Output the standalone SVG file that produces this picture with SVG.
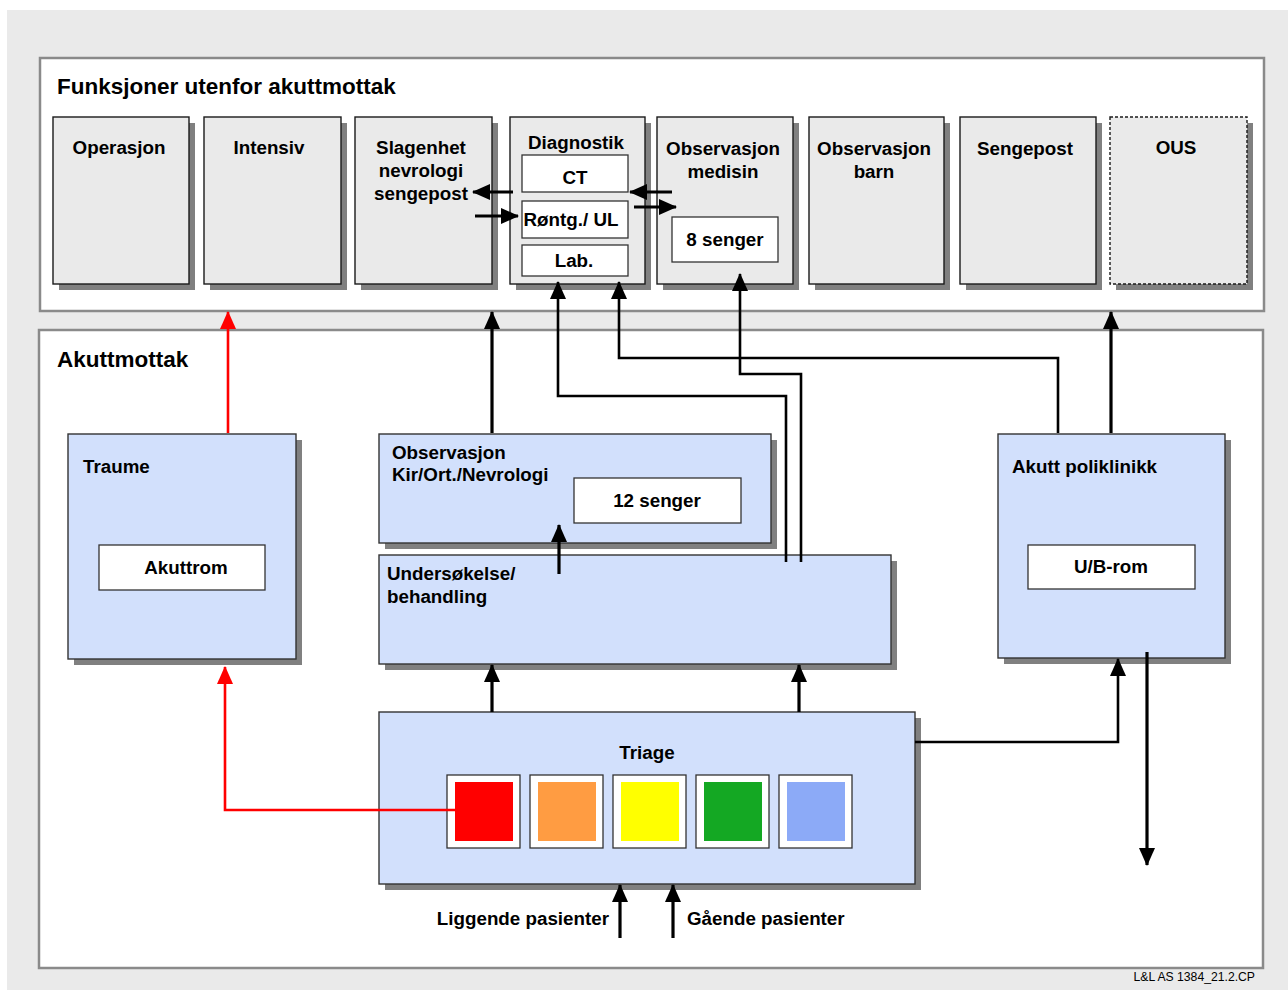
<svg xmlns="http://www.w3.org/2000/svg" width="1288" height="990" viewBox="0 0 1288 990">
<defs>
<style>
.t{font-family:"Liberation Sans",Arial,sans-serif;font-weight:bold;font-size:18.8px;fill:#000}
.c{text-anchor:middle}
.ttl{font-family:"Liberation Sans",Arial,sans-serif;font-weight:bold;font-size:22.5px;fill:#000}
.sh{fill:#808080}
.gn{fill:#EAEAEA;stroke:#1a1a1a;stroke-width:1.4}
.bn{fill:#D2E0FC;stroke:#333;stroke-width:1.4}
.wb{fill:#fff;stroke:#333;stroke-width:1.3}
.cont{fill:#fff;stroke:#8a8a8a;stroke-width:2.5}
.ln{fill:none;stroke:#000;stroke-width:2.6}
.lt{fill:none;stroke:#000;stroke-width:3.2}
.rd{fill:none;stroke:#FF0000;stroke-width:2.6}
</style>
<marker id="ah" markerUnits="userSpaceOnUse" markerWidth="18" markerHeight="16" viewBox="0 0 18 16" refX="17" refY="8" orient="auto"><path d="M0,0 L18,8 L0,16 z" fill="#000"/></marker>
<marker id="ahr" markerUnits="userSpaceOnUse" markerWidth="18" markerHeight="16" viewBox="0 0 18 16" refX="17" refY="8" orient="auto"><path d="M0,0 L18,8 L0,16 z" fill="#FF0000"/></marker>
</defs>
<rect x="0" y="0" width="1288" height="990" fill="#fff"/>
<rect x="7" y="10" width="1281" height="980" fill="#EAEAEA"/>
<g id="container-top">
<rect class="cont" x="40" y="58" width="1224" height="253"/>
<text class="ttl" x="57" y="94">Funksjoner utenfor akuttmottak</text>
</g>
<g id="container-akutt">
<rect class="cont" x="39" y="330" width="1224" height="638"/>
<text class="ttl" x="57" y="367">Akuttmottak</text>
</g>
<g id="operasjon"><rect class="sh" x="59" y="123" width="136" height="167"/><rect class="gn" x="53" y="117" width="136" height="167"/><text class="t c" x="119" y="154">Operasjon</text></g>
<g id="intensiv"><rect class="sh" x="210" y="123" width="137" height="167"/><rect class="gn" x="204" y="117" width="137" height="167"/><text class="t c" x="269" y="154">Intensiv</text></g>
<g id="slagenhet"><rect class="sh" x="361" y="123" width="137" height="167"/><rect class="gn" x="355" y="117" width="137" height="167"/><text class="t c" x="421" y="154">Slagenhet</text><text class="t c" x="421" y="177">nevrologi</text><text class="t c" x="421" y="200">sengepost</text></g>
<g id="diagnostik"><rect class="sh" x="516" y="123" width="135" height="167"/><rect class="gn" x="510" y="117" width="135" height="167"/><text class="t c" x="576" y="149">Diagnostik</text>
<rect class="wb" x="522" y="155" width="106" height="37"/><text class="t c" x="575" y="184">CT</text>
<rect class="wb" x="522" y="201" width="106" height="37"/><text class="t c" x="571" y="226">Røntg./ UL</text>
<rect class="wb" x="522" y="245" width="106" height="31"/><text class="t c" x="574" y="267">Lab.</text></g>
<g id="obs-medisin"><rect class="sh" x="663" y="123" width="136" height="167"/><rect class="gn" x="657" y="117" width="136" height="167"/><text class="t c" x="723" y="155">Observasjon</text><text class="t c" x="723" y="178">medisin</text>
<rect class="wb" x="672" y="217" width="106" height="45"/><text class="t c" x="725" y="246">8 senger</text></g>
<g id="obs-barn"><rect class="sh" x="815" y="123" width="135" height="167"/><rect class="gn" x="809" y="117" width="135" height="167"/><text class="t c" x="874" y="155">Observasjon</text><text class="t c" x="874" y="178">barn</text></g>
<g id="sengepost"><rect class="sh" x="966" y="123" width="136" height="167"/><rect class="gn" x="960" y="117" width="136" height="167"/><text class="t c" x="1025" y="155">Sengepost</text></g>
<g id="ous"><rect class="sh" x="1116" y="123" width="137" height="167"/><rect class="gn" x="1110" y="117" width="137" height="167" stroke-dasharray="3,2"/><text class="t c" x="1176" y="154">OUS</text></g>
<g id="traume"><rect class="sh" x="74" y="440" width="228" height="225"/><rect class="bn" x="68" y="434" width="228" height="225"/><text class="t" x="83" y="473">Traume</text>
<rect class="wb" x="99" y="545" width="166" height="45"/><text class="t c" x="186" y="574">Akuttrom</text></g>
<g id="obs-kir"><rect class="sh" x="385" y="440" width="392" height="109"/><rect class="bn" x="379" y="434" width="392" height="109"/><text class="t" x="392" y="459">Observasjon</text><text class="t" x="392" y="481">Kir/Ort./Nevrologi</text>
<rect class="wb" x="574" y="478" width="167" height="45"/><text class="t c" x="657" y="507">12 senger</text></g>
<g id="undersokelse"><rect class="sh" x="385" y="561" width="512" height="109"/><rect class="bn" x="379" y="555" width="512" height="109"/><text class="t" x="387" y="580">Undersøkelse/</text><text class="t" x="387" y="603">behandling</text></g>
<g id="akutt-poliklinikk"><rect class="sh" x="1004" y="440" width="227" height="224"/><rect class="bn" x="998" y="434" width="227" height="224"/><text class="t" x="1012" y="473">Akutt poliklinikk</text>
<rect class="wb" x="1028" y="545" width="167" height="44"/><text class="t c" x="1111" y="573">U/B-rom</text></g>
<g id="triage"><rect class="sh" x="385" y="718" width="536" height="172"/><rect class="bn" x="379" y="712" width="536" height="172"/><text class="t c" x="647" y="759">Triage</text>
<rect class="wb" x="447" y="775" width="73" height="73" stroke-width="1"/><rect x="455" y="782" width="58" height="59" fill="#FF0000"/>
<rect class="wb" x="530" y="775" width="73" height="73" stroke-width="1"/><rect x="538" y="782" width="58" height="59" fill="#FF9C42"/>
<rect class="wb" x="613" y="775" width="73" height="73" stroke-width="1"/><rect x="621" y="782" width="58" height="59" fill="#FFFF00"/>
<rect class="wb" x="696" y="775" width="73" height="73" stroke-width="1"/><rect x="704" y="782" width="58" height="59" fill="#14A823"/>
<rect class="wb" x="779" y="775" width="73" height="73" stroke-width="1"/><rect x="787" y="782" width="58" height="59" fill="#8CAAF7"/></g>
<g id="connectors">
<path class="rd" d="M228,433 V312" marker-end="url(#ahr)"/>
<path class="rd" d="M455,810 H225 V667" marker-end="url(#ahr)"/>
<path class="lt" d="M492,433 V312" marker-end="url(#ah)"/>
<path class="lt" d="M1111,433 V312" marker-end="url(#ah)"/>
<path class="ln" d="M786,562 V396 H558 V282" marker-end="url(#ah)"/>
<path class="ln" d="M801,562 V374 H740 V274" marker-end="url(#ah)"/>
<path class="ln" d="M1058,433 V358 H619 V282" marker-end="url(#ah)"/>
<path class="lt" d="M559,574 V525" marker-end="url(#ah)"/>
<path class="lt" d="M492,712 V665" marker-end="url(#ah)"/>
<path class="lt" d="M799,712 V665" marker-end="url(#ah)"/>
<path class="ln" d="M915,742 H1118 V659" marker-end="url(#ah)"/>
<path class="lt" d="M1147,652 V865" marker-end="url(#ah)"/>
<path class="lt" d="M620,938 V885" marker-end="url(#ah)"/>
<path class="lt" d="M673,938 V885" marker-end="url(#ah)"/>
<path class="lt" d="M513,192 H473" marker-end="url(#ah)"/>
<path class="lt" d="M475,216 H518" marker-end="url(#ah)"/>
<path class="lt" d="M672,192 H630" marker-end="url(#ah)"/>
<path class="lt" d="M634,207 H676" marker-end="url(#ah)"/>
</g>
<text class="t" x="609" y="925" text-anchor="end">Liggende pasienter</text>
<text class="t" x="687" y="925">Gående pasienter</text>
<text x="1255" y="981" text-anchor="end" font-family="Liberation Sans,Arial,sans-serif" font-size="12.2" fill="#000">L&amp;L AS 1384_21.2.CP</text>
</svg>
